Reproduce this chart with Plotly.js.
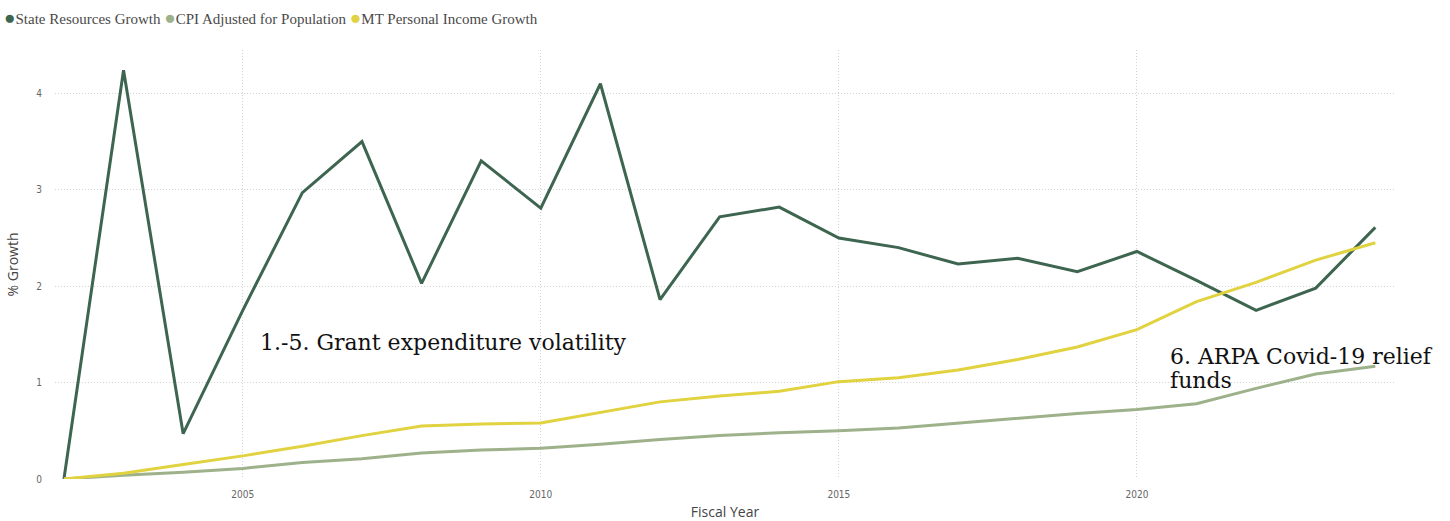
<!DOCTYPE html>
<html>
<head>
<meta charset="utf-8">
<script src="https://cdn.plot.ly/plotly-3.0.1.min.js"></script>
<style>html,body{margin:0;padding:0;background:#fff;}#chart{width:1450px;height:521px;}</style>
</head>
<body>
<div id="chart"></div>
<script>
const years = [2002,2003,2004,2005,2006,2007,2008,2009,2010,2011,2012,2013,2014,2015,2016,2017,2018,2019,2020,2021,2022,2023,2024];
const stateResources = [0,4.24,0.47,1.75,2.97,3.50,2.03,3.30,2.81,4.10,1.86,2.72,2.82,2.50,2.40,2.23,2.29,2.15,2.36,2.06,1.75,1.98,2.61];
const cpiAdjusted = [0,0.04,0.07,0.11,0.17,0.21,0.27,0.30,0.32,0.36,0.41,0.45,0.48,0.50,0.53,0.58,0.63,0.68,0.72,0.78,0.94,1.09,1.17];
const personalIncome = [0,0.06,0.15,0.24,0.34,0.45,0.55,0.57,0.58,0.69,0.80,0.86,0.91,1.01,1.05,1.13,1.24,1.37,1.55,1.84,2.04,2.27,2.45];
const seriesNames = ["State Resources Growth","CPI Adjusted for Population","MT Personal Income Growth"];
const xTicks = [2005,2010,2015,2020];
const yTicks = [0,1,2,3,4];

const colors = ["#3d6550","#9db18b","#e1d23f"];
const seriesValues = [stateResources, cpiAdjusted, personalIncome];
const traces = seriesNames.map((name, i) => ({
  type: 'scatter', mode: 'lines', x: years, y: seriesValues[i], name: name,
  line: {color: colors[i], width: 3}, showlegend: false
}));

// Legend drawn as real text (colored dots + names), as in the reference
const legendText = seriesNames.map((n, i) =>
  '<span style="color:' + colors[i] + ';font-size:19px">●</span>' + n).join(' ');

const layout = {
  width: 1450, height: 521,
  margin: {l: 55, r: 55, t: 50, b: 42},
  paper_bgcolor: '#fff', plot_bgcolor: '#fff',
  showlegend: false,
  xaxis: {
    range: [2001.85, 2024.33],
    tickvals: xTicks, ticktext: xTicks.map(String),
    showgrid: true, gridcolor: '#d4d4d4', griddash: '1px,2px', gridwidth: 1,
    zeroline: false, showline: false,
    ticks: 'outside', ticklen: 6, tickcolor: 'rgba(0,0,0,0)',
    tickfont: {family: 'DejaVu Sans Condensed, DejaVu Sans, sans-serif', size: 10, color: '#666'},
    title: {text: 'Fiscal Year', font: {family: 'Open Sans, sans-serif', size: 14, color: '#444'}, standoff: 8}
  },
  yaxis: {
    range: [0, 4.45],
    tickvals: yTicks, ticktext: yTicks.map(String),
    showgrid: true, gridcolor: '#d4d4d4', griddash: '1px,2px', gridwidth: 1,
    zeroline: false, showline: false,
    ticks: 'outside', ticklen: 10, tickcolor: 'rgba(0,0,0,0)',
    tickfont: {family: 'DejaVu Sans Condensed, DejaVu Sans, sans-serif', size: 10, color: '#666'},
    title: {text: '% Growth', font: {family: 'Open Sans, sans-serif', size: 14, color: '#444'}, standoff: 14}
  },
  annotations: [
    {text: legendText, xref: 'paper', yref: 'paper', x: -0.0395, y: 1.0746,
     xanchor: 'left', yanchor: 'middle', showarrow: false, align: 'left',
     font: {family: 'Liberation Serif, serif', size: 15, color: '#4a4a4a'}},
    {text: '1.-5. Grant expenditure volatility', x: 2005.25, y: 1.42, xref: 'x', yref: 'y',
     xanchor: 'left', yanchor: 'middle', showarrow: false,
     font: {family: 'DejaVu Serif, serif', size: 22, color: '#111'}},
    {text: '6. ARPA Covid-19 relief', x: 2020.52, y: 1.27, xref: 'x', yref: 'y',
     xanchor: 'left', yanchor: 'middle', align: 'left', showarrow: false,
     font: {family: 'DejaVu Serif, serif', size: 22, color: '#111'}},
    {text: 'funds', x: 2020.52, y: 1.02, xref: 'x', yref: 'y',
     xanchor: 'left', yanchor: 'middle', align: 'left', showarrow: false,
     font: {family: 'DejaVu Serif, serif', size: 22, color: '#111'}}
  ]
};

Plotly.newPlot('chart', traces, layout, {displayModeBar: false, staticPlot: true});
</script>
</body>
</html>
